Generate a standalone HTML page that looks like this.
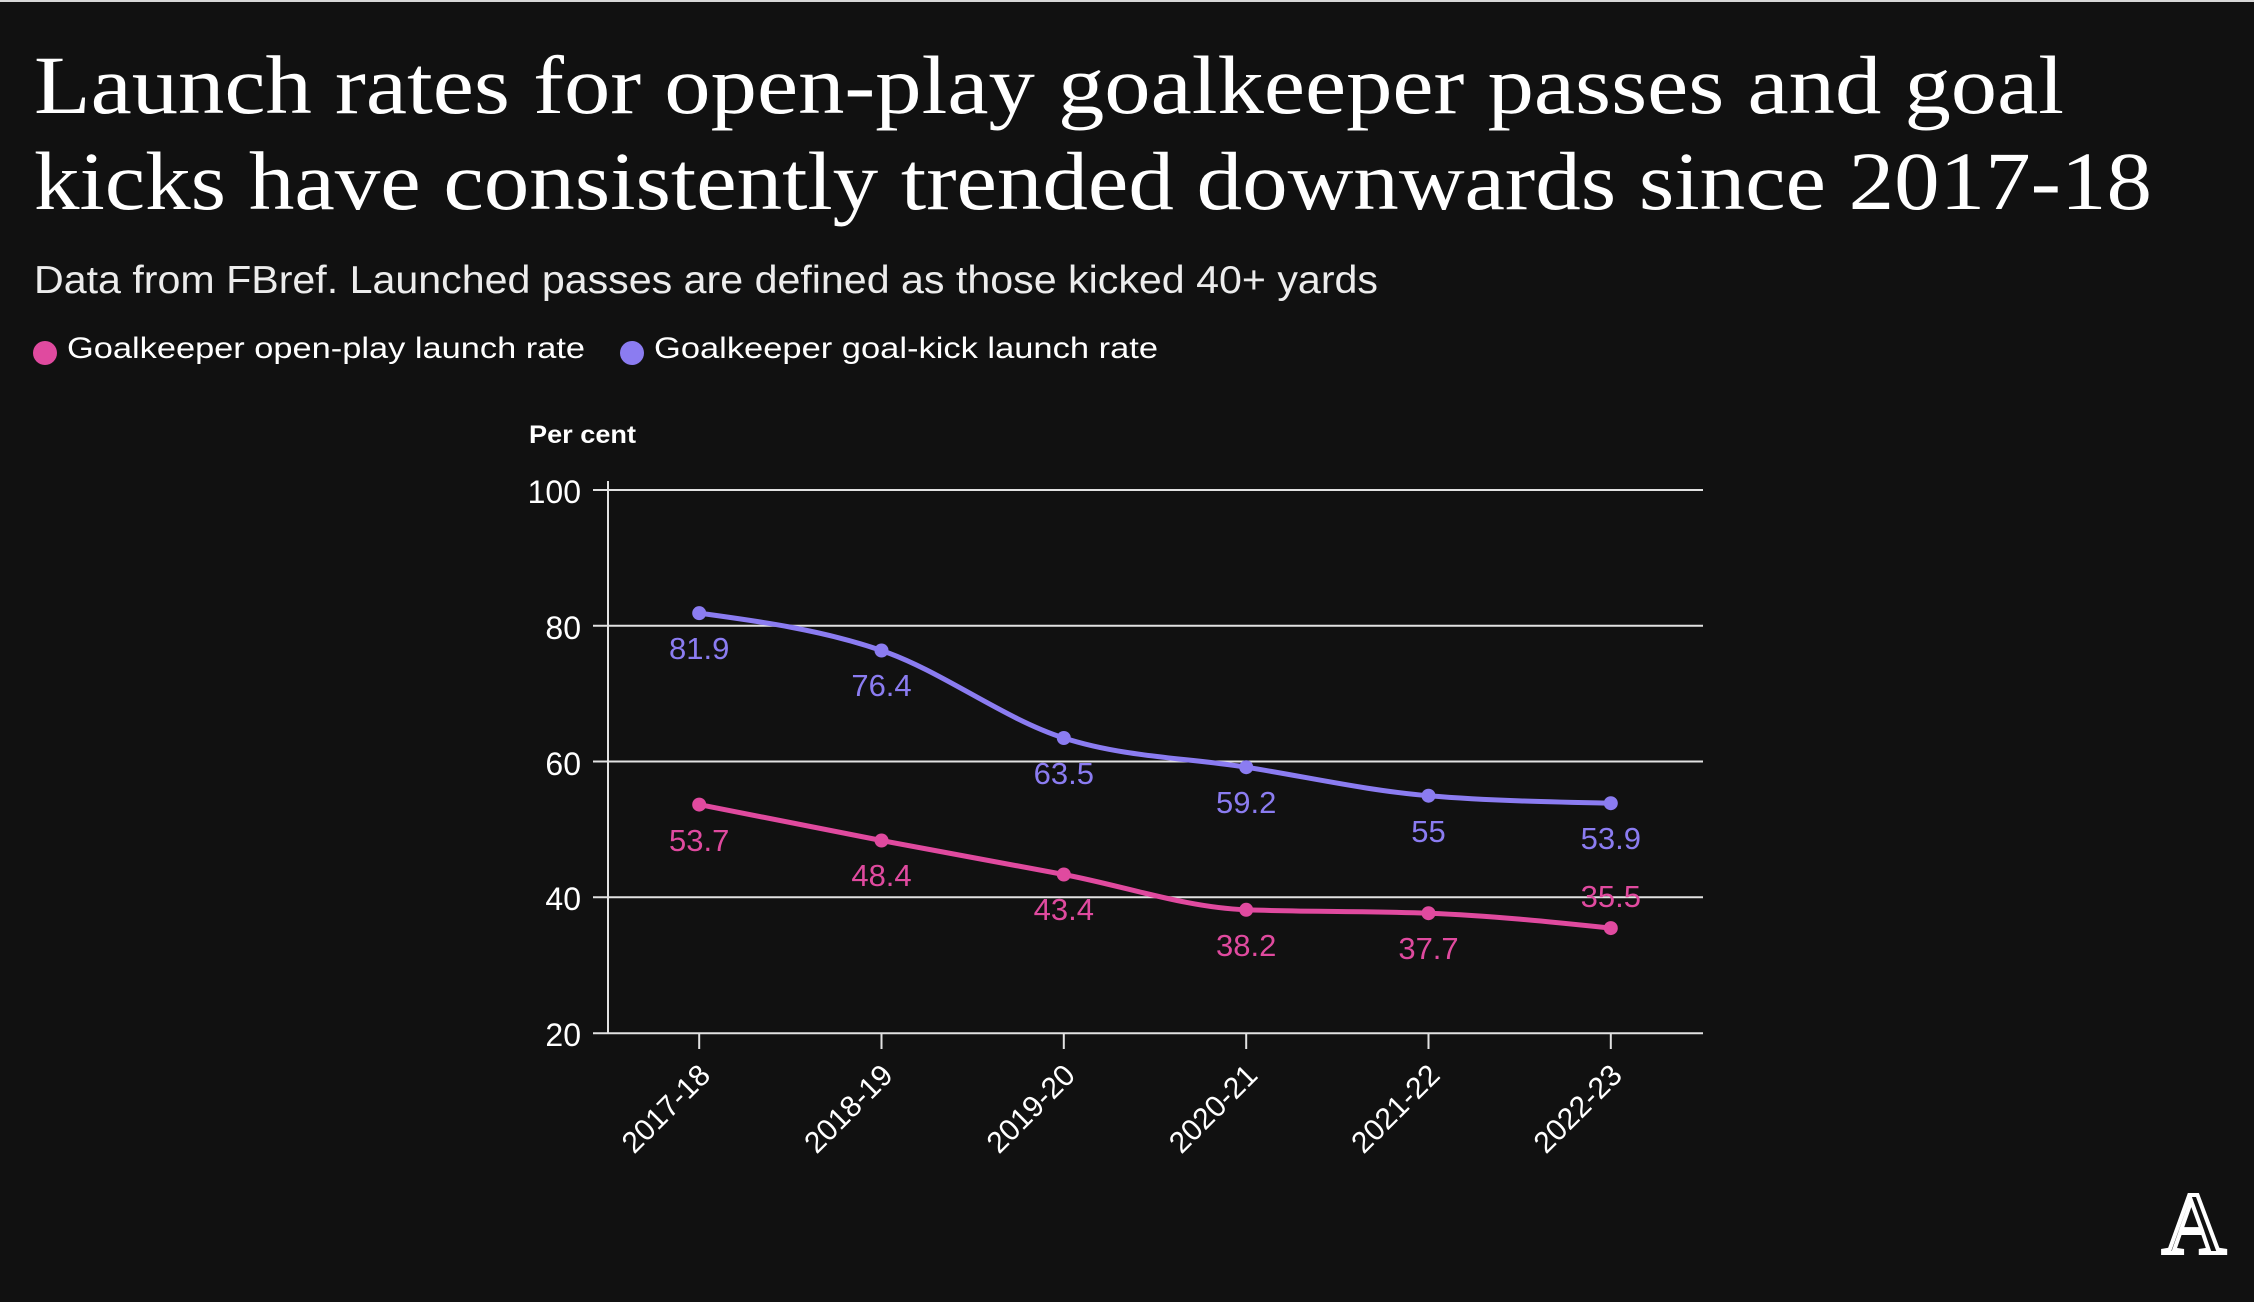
<!DOCTYPE html>
<html>
<head>
<meta charset="utf-8">
<style>
  html, body { margin: 0; padding: 0; background: #111111; }
  body { width: 2254px; height: 1302px; overflow: hidden; }
  svg { display: block; }
  .sans { font-family: "Liberation Sans", "DejaVu Sans", sans-serif; }
  .serif { font-family: "Liberation Serif", "DejaVu Serif", serif; }
</style>
</head>
<body>
<svg width="2254" height="1302" viewBox="0 0 2254 1302" xmlns="http://www.w3.org/2000/svg">
  <rect x="0" y="0" width="2254" height="1302" fill="#111111"/>
  <rect x="0" y="0" width="2254" height="2" fill="#d8d8d8"/>

  <!-- Title -->
  <text class="serif" x="34" y="113" font-size="83" fill="#ffffff" textLength="2030" lengthAdjust="spacingAndGlyphs">Launch rates for open-play goalkeeper passes and goal</text>
  <text class="serif" x="34" y="209" font-size="83" fill="#ffffff" textLength="2118" lengthAdjust="spacingAndGlyphs">kicks have consistently trended downwards since 2017-18</text>

  <!-- Subtitle -->
  <text class="sans" x="34" y="293" font-size="39" fill="#ececec" textLength="1344" lengthAdjust="spacingAndGlyphs">Data from FBref. Launched passes are defined as those kicked 40+ yards</text>

  <!-- Legend -->
  <circle cx="45" cy="353" r="12" fill="#e04a9f"/>
  <text class="sans" x="67" y="358" font-size="30" fill="#ffffff" textLength="518" lengthAdjust="spacingAndGlyphs">Goalkeeper open-play launch rate</text>
  <circle cx="632" cy="353" r="12" fill="#8b7cf1"/>
  <text class="sans" x="654" y="358" font-size="30" fill="#ffffff" textLength="504" lengthAdjust="spacingAndGlyphs">Goalkeeper goal-kick launch rate</text>

  <!-- Axis title -->
  <text class="sans" x="529" y="443" font-size="25" font-weight="bold" fill="#ffffff" textLength="107" lengthAdjust="spacingAndGlyphs">Per cent</text>

  <!-- Gridlines -->
  <g stroke="#e2e2e2" stroke-width="2">
    <line x1="593" y1="490" x2="1703" y2="490"/>
    <line x1="593" y1="625.8" x2="1703" y2="625.8"/>
    <line x1="593" y1="761.5" x2="1703" y2="761.5"/>
    <line x1="593" y1="897.3" x2="1703" y2="897.3"/>
    <line x1="593" y1="1033.3" x2="1703" y2="1033.3"/>
    <line x1="608" y1="481" x2="608" y2="1034"/>
    <line x1="699.2" y1="1033" x2="699.2" y2="1049"/>
    <line x1="881.5" y1="1033" x2="881.5" y2="1049"/>
    <line x1="1063.8" y1="1033" x2="1063.8" y2="1049"/>
    <line x1="1246.2" y1="1033" x2="1246.2" y2="1049"/>
    <line x1="1428.5" y1="1033" x2="1428.5" y2="1049"/>
    <line x1="1610.8" y1="1033" x2="1610.8" y2="1049"/>
  </g>

  <!-- Y labels -->
  <g class="sans" font-size="32" fill="#ffffff" text-anchor="end">
    <text x="581" y="503">100</text>
    <text x="581" y="639">80</text>
    <text x="581" y="775">60</text>
    <text x="581" y="910">40</text>
    <text x="581" y="1046">20</text>
  </g>

  <!-- X labels -->
  <g class="sans" font-size="30" fill="#ffffff" text-anchor="end">
    <text transform="translate(712,1077) rotate(-45)">2017-18</text>
    <text transform="translate(894.5,1077) rotate(-45)">2018-19</text>
    <text transform="translate(1076.8,1077) rotate(-45)">2019-20</text>
    <text transform="translate(1259.2,1077) rotate(-45)">2020-21</text>
    <text transform="translate(1441.5,1077) rotate(-45)">2021-22</text>
    <text transform="translate(1623.8,1077) rotate(-45)">2022-23</text>
  </g>

  <!-- Purple series -->
  <path d="M699.2,613.15 C759.98,621.42 820.72,629.69 881.5,650.5 C942.28,671.31 1003.02,718.55 1063.8,738.0 C1124.58,757.45 1185.42,757.58 1246.2,767.2 C1306.98,776.82 1367.72,790.7 1428.5,795.7 C1489.28,800.7 1550.02,801.95 1610.8,803.2"
        fill="none" stroke="#8b7cf1" stroke-width="5" stroke-linecap="round" stroke-linejoin="round"/>
  <g fill="#8b7cf1">
    <circle cx="699.2" cy="613.15" r="7"/>
    <circle cx="881.5" cy="650.5" r="7"/>
    <circle cx="1063.8" cy="738.0" r="7"/>
    <circle cx="1246.2" cy="767.2" r="7"/>
    <circle cx="1428.5" cy="795.7" r="7"/>
    <circle cx="1610.8" cy="803.2" r="7"/>
  </g>

  <!-- Pink series -->
  <path d="M699.2,804.6 C759.98,816.73 820.72,828.85 881.5,840.5 C942.28,852.15 1003.02,862.95 1063.8,874.5 C1124.58,886.05 1185.42,907.53 1246.2,909.8 C1306.98,912.07 1367.72,910.93 1428.5,913.2 C1489.28,915.47 1550.02,921.78 1610.8,928.1"
        fill="none" stroke="#e04a9f" stroke-width="5" stroke-linecap="round" stroke-linejoin="round"/>
  <g fill="#e04a9f">
    <circle cx="699.2" cy="804.6" r="7"/>
    <circle cx="881.5" cy="840.5" r="7"/>
    <circle cx="1063.8" cy="874.5" r="7"/>
    <circle cx="1246.2" cy="909.8" r="7"/>
    <circle cx="1428.5" cy="913.2" r="7"/>
    <circle cx="1610.8" cy="928.1" r="7"/>
  </g>

  <!-- Value labels purple -->
  <g class="sans" font-size="31" fill="#8b7cf1" text-anchor="middle">
    <text x="699.2" y="659">81.9</text>
    <text x="881.5" y="696">76.4</text>
    <text x="1063.8" y="784">63.5</text>
    <text x="1246.2" y="813">59.2</text>
    <text x="1428.5" y="842">55</text>
    <text x="1610.8" y="849">53.9</text>
  </g>

  <!-- Value labels pink -->
  <g class="sans" font-size="31" fill="#e04a9f" text-anchor="middle">
    <text x="699.2" y="851">53.7</text>
    <text x="881.5" y="886">48.4</text>
    <text x="1063.8" y="920">43.4</text>
    <text x="1246.2" y="956">38.2</text>
    <text x="1428.5" y="959">37.7</text>
    <text x="1610.8" y="907">35.5</text>
  </g>

  <!-- Logo -->
  <text class="serif" x="2194" y="1253" font-size="88" text-anchor="middle" fill="#111111" stroke="#ffffff" stroke-width="4">A</text>
</svg>
</body>
</html>
